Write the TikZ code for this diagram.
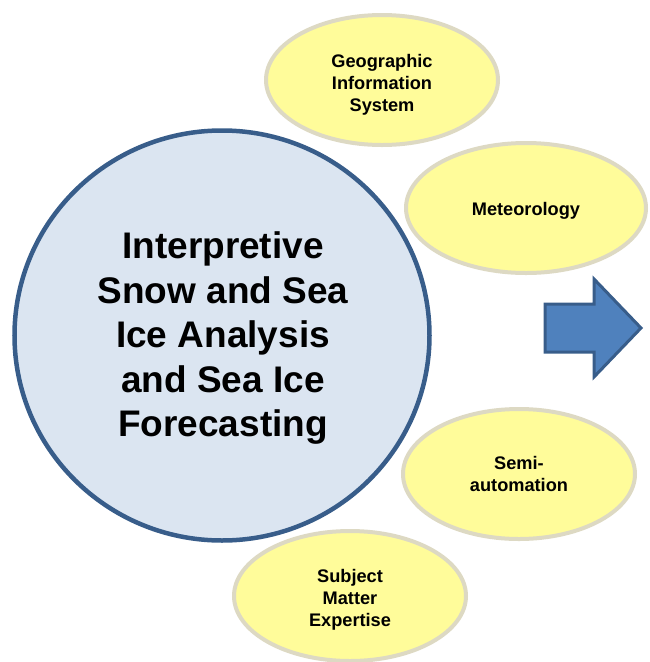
\documentclass[tikz,border=0pt]{standalone}
\usepackage{fontspec}
\setmainfont{Liberation Sans}
\usetikzlibrary{shapes.geometric}
\definecolor{ellfill}{HTML}{FFFC9A}
\definecolor{ellline}{HTML}{DDD9C3}
\definecolor{circfill}{HTML}{DBE5F1}
\definecolor{circline}{HTML}{385D8A}
\definecolor{arrfill}{HTML}{4F81BD}
\begin{document}
\begin{tikzpicture}[x=1pt,y=-1pt,
  topic/.style={ellipse,draw=ellline,fill=ellfill,line width=4pt,inner sep=0pt,
    minimum width=232pt,minimum height=130pt},
  topictext/.style={align=center,inner sep=0pt,
    font=\fontsize{18.2}{22}\selectfont\bfseries},
  core/.style={ellipse,draw=circline,fill=circfill,line width=4.5pt,inner sep=0pt,
    minimum width=415pt,minimum height=410pt},
  coretext/.style={align=center,inner sep=0pt,
    font=\fontsize{37}{44.5}\selectfont\bfseries}]
\useasboundingbox (0,0) rectangle (650,662);
\node[topic] (gis) at (382,80) {};
\node[topictext] (gist) at ([yshift=-5pt]gis.center) {Geographic\\Information\\System};
\node[topic,minimum width=240pt] (met) at (526,208) {};
\node[topictext] (mett) at ([yshift=-3pt]met.center) {Meteorology};
\node[topic] (semi) at (519,474) {};
\node[topictext] (semit) at ([yshift=0pt]semi.center) {Semi-\\automation};
\node[topic] (sme) at (350,596) {};
\node[topictext] (smet) at ([yshift=-4pt]sme.center) {Subject\\Matter\\Expertise};
\node[core] (core) at (222,335.5) {};
\node[coretext] (coret) at ([xshift=1pt,yshift=-3pt]core.center) {Interpretive\\Snow and Sea\\Ice Analysis\\and Sea Ice\\Forecasting};
\draw[draw=circline,fill=arrfill,line width=3pt,line join=miter]
  (545,304) -- (594,304) -- (594,279) -- (641,328) -- (594,377) -- (594,352) -- (545,352) -- cycle;
\end{tikzpicture}
\end{document}
